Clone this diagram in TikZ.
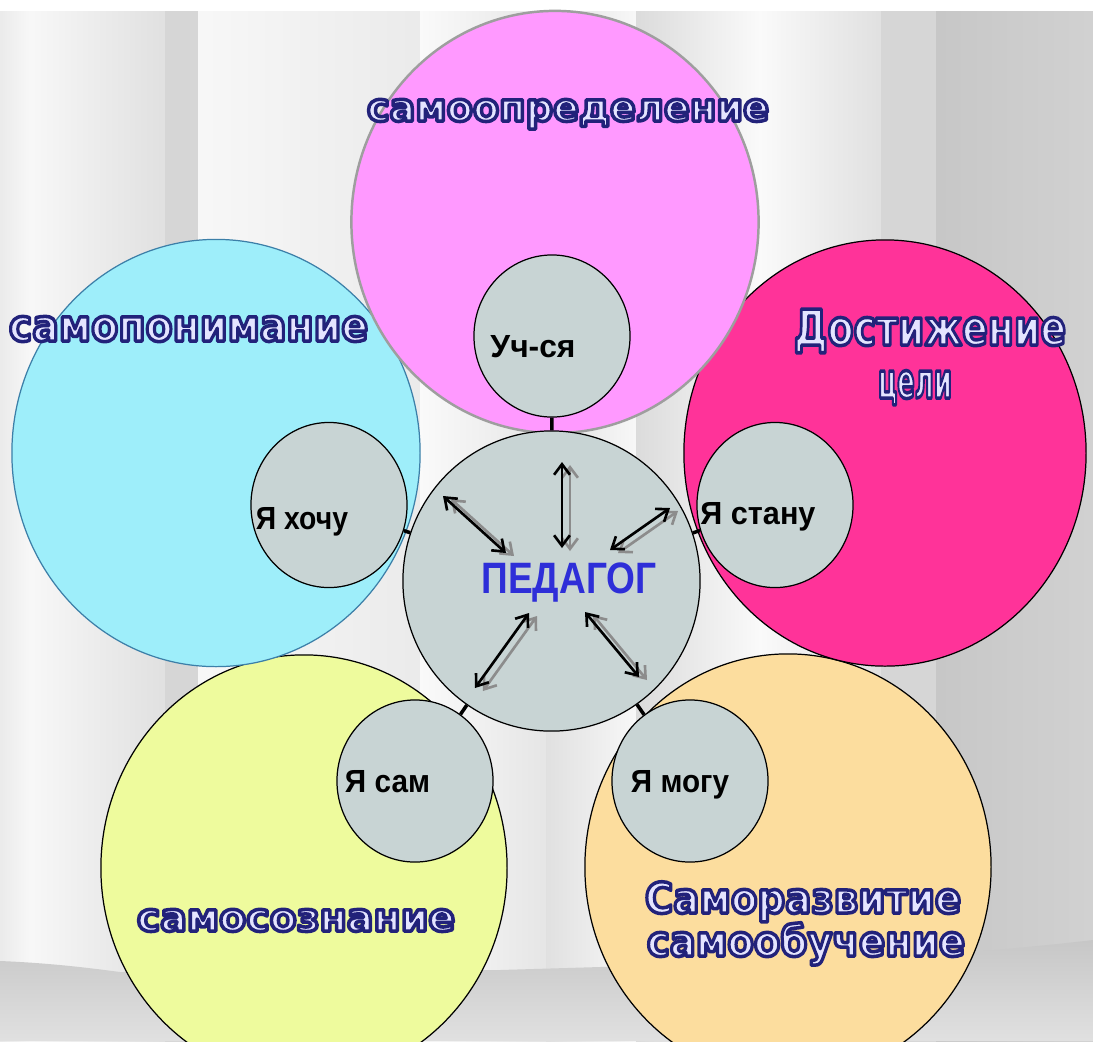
\documentclass[tikz,border=0pt]{standalone}
\usepackage{fontspec}
\setmainfont{Liberation Sans}
\newfontfamily\roundfont{DejaVu Sans}
\usetikzlibrary{shapes,arrows,positioning,calc,arrows.meta}

\definecolor{pinkfill}{HTML}{FF99FF}
\definecolor{cyanfill}{HTML}{9EEEFA}
\definecolor{cyanline}{HTML}{3C7FA8}
\definecolor{magfill}{HTML}{FF3399}
\definecolor{yelfill}{HTML}{EEFB9D}
\definecolor{orfill}{HTML}{FCDD9E}
\definecolor{grayfill}{HTML}{C8D4D4}
\definecolor{pedblue}{HTML}{2E2ED8}
\definecolor{lblfill}{HTML}{E4E4FF}

% squeeze a text to a given width, keep its height
\newcommand{\fitw}[2]{\resizebox{#1}{\height}{#2}}
% outlined letters: fill light, stroke dark blue
\newcommand{\outl}[1]{\special{pdf:literal direct 2 Tr 1 w 1 j 0.133 0.133 0.478 RG}#1\special{pdf:literal direct 0 Tr}}
\newcommand{\biglbl}[2]{\resizebox{#1}{\height}{\outl{#2}}}

\tikzset{
  big/.style={ellipse, draw=black, line width=0.35pt, inner sep=0pt},
  small/.style={ellipse, draw=black, line width=0.35pt, fill=grayfill, inner sep=0pt,
    minimum width=1.56cm, minimum height=1.62cm},
  smalltext/.style={anchor=base, inner sep=0pt, font=\fontsize{9.1}{11}\selectfont\bfseries},
  bigtext/.style={anchor=base, inner sep=0pt, text=lblfill},
  link/.style={line width=1pt, black},
  pedarrow/.style={{Straight Barb[length=3pt,width=4.5pt]}-{Straight Barb[length=3pt,width=4.5pt]},
    line width=0.75pt, black},
  shadowarrow/.style={pedarrow, black!45}
}

\begin{document}
\begin{tikzpicture}[x=0.01cm, y=-0.01cm]
    \useasboundingbox (0,0) rectangle (1093,1041);

    % curtain background
    \fill[white] (0,0) rectangle (1093,1041);
    \foreach \xa/\xb/\ca/\cb in {0/30/8/3, 30/165/3/12, 165/198/16/16, 198/420/3/8, 420/546/2/10,
        546/636/12/3, 636/760/14/2, 760/881/2/12, 881/936/16/16, 936/1093/22/18}
        \shade[left color=black!\ca, right color=black!\cb] (\xa,11) rectangle (\xb,1041);
    \shade[top color=black!22, bottom color=black!12] (0,961) .. controls (50,963) and (90,968) .. (120,972)
        -- (500,970) -- (900,958) .. controls (1000,950) and (1060,944) .. (1093,940) -- (1093,1041) -- (0,1041) -- cycle;

    % big circles
    \node[big, fill=yelfill, minimum width=4.06cm, minimum height=4.26cm] (aware) at (304,868) {};
    \node[big, fill=orfill, minimum width=4.06cm, minimum height=4.26cm] (develop) at (788,867) {};
    \node[big, fill=cyanfill, draw=cyanline, minimum width=4.08cm, minimum height=4.27cm] (under) at (216,453) {};
    \node[big, fill=magfill, minimum width=4.02cm, minimum height=4.26cm] (goal) at (885,453) {};
    \node[big, fill=pinkfill, draw=black!38, line width=0.7pt, minimum width=4.07cm, minimum height=4.22cm] (determ) at (555,222) {};

    % small circles
    \node[small, minimum width=2.97cm, minimum height=3.0cm] (ped) at (551.5,581) {};
    \node[small] (ucha) at (552,336) {};
    \node[small, minimum height=1.65cm] (want) at (329,505) {};
    \node[small, minimum height=1.65cm] (become) at (775,505) {};
    \node[small] (self) at (415,781) {};
    \node[small] (can) at (690,781) {};

    \foreach \n in {ucha,want,become,self,can}
        \draw[link] (ped) -- (\n);

    % arrows round the teacher
    \foreach \n/\xa/\ya/\xb/\yb in {up/562/548/562/462, nw/506/553/443/496, ne/610/550/670/508,
        sw/529/613/475/688, se/585/612/639/677} {
        \coordinate (\n-a) at (\xa,\ya);
        \coordinate (\n-b) at (\xb,\yb);
        \draw[shadowarrow] ([shift={(8,3)}]\n-a) -- ([shift={(8,3)}]\n-b);
        \draw[pedarrow] (\n-a) -- (\n-b);
    }

    % texts
    \node[anchor=base, inner sep=0pt, text=pedblue, font=\fontsize{12.5}{14}\selectfont\bfseries] (pedtxt) at (569,593) {\fitw{1.75cm}{ПЕДАГОГ}};
    \node[smalltext] (uchatxt) at (533,357) {\fitw{0.85cm}{Уч-ся}};
    \node[smalltext] (wanttxt) at (302,529) {\fitw{0.92cm}{Я хочу}};
    \node[smalltext] (becometxt) at (758,524) {\fitw{1.15cm}{Я стану}};
    \node[smalltext] (selftxt) at (387.5,792) {\fitw{0.85cm}{Я сам}};
    \node[smalltext] (cantxt) at (680,792) {\fitw{0.98cm}{Я могу}};

    \node[bigtext, font=\roundfont\bfseries\fontsize{11}{13}\selectfont] (determtxt) at (568,121) {\biglbl{4.02cm}{самоопределение}};
    \node[bigtext, font=\roundfont\bfseries\fontsize{12.5}{15}\selectfont] (undertxt) at (188.5,341) {\biglbl{3.59cm}{самопонимание}};
    \node[bigtext, font=\roundfont\bfseries\fontsize{14}{17}\selectfont] (goaltxt) at (930,345) {\biglbl{2.72cm}{Достижение}};
    \node[bigtext, font=\roundfont\bfseries\fontsize{14}{17}\selectfont] (goaltxtb) at (915,398) {\biglbl{0.74cm}{цели}};
    \node[bigtext, font=\roundfont\bfseries\fontsize{11}{13}\selectfont] (awaretxt) at (296,931) {\biglbl{3.18cm}{самосознание}};
    \node[bigtext, font=\roundfont\bfseries\fontsize{12}{14}\selectfont] (developtxt) at (803,913) {\biglbl{3.16cm}{Саморазвитие}};
    \node[bigtext, font=\roundfont\bfseries\fontsize{12}{14}\selectfont] (developtxtb) at (806,956) {\biglbl{3.18cm}{самообучение}};
\end{tikzpicture}
\end{document}
